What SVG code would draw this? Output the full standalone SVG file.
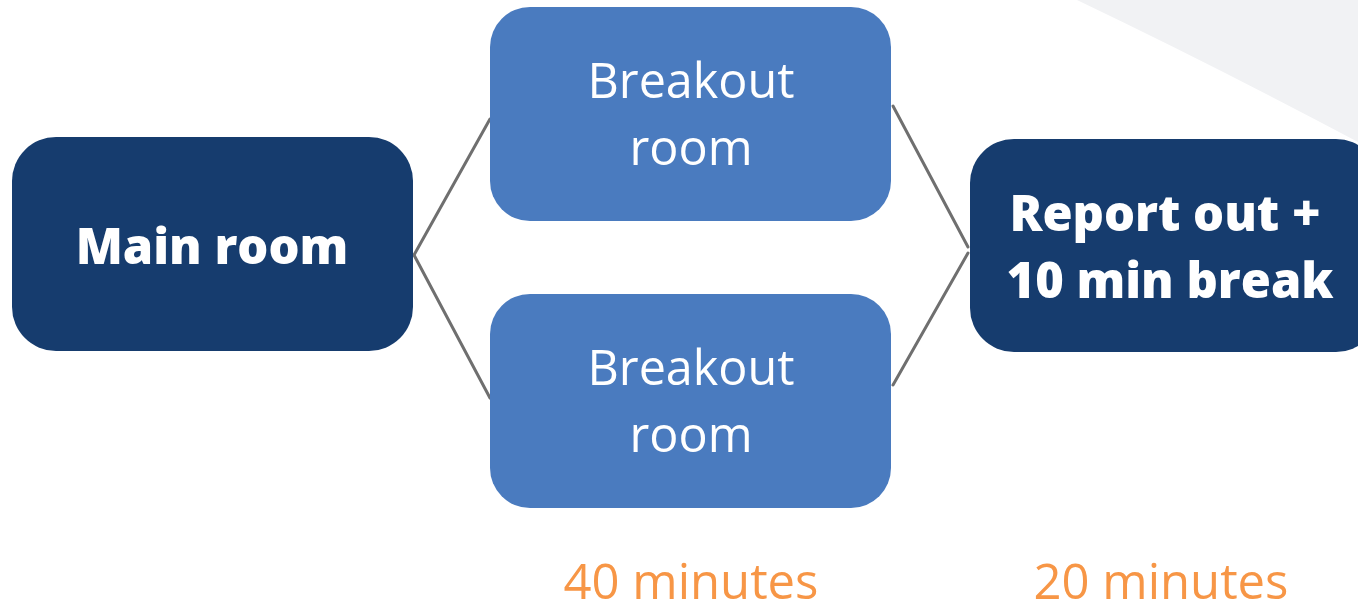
<svg xmlns="http://www.w3.org/2000/svg" width="1358" height="607" viewBox="0 0 1358 607">
  <style>
    .dark { fill: #163c6e; }
    .light { fill: #4a7bbf; }
    .bold { font-family: "Open Sans", "Liberation Sans", sans-serif; font-weight: 800; fill: #ffffff; text-anchor: middle; font-size: 48.8px; }
    .reg { font-family: "Open Sans", "Liberation Sans", sans-serif; font-weight: 400; fill: #ffffff; text-anchor: middle; font-size: 48.5px; }
    .time { font-family: "Open Sans", "Liberation Sans", sans-serif; font-weight: 400; fill: #f79646; text-anchor: middle; font-size: 49px; }
    .link { stroke: #6f6f6f; stroke-width: 3; fill: none; stroke-linecap: round; }
  </style>

  <rect width="1358" height="607" fill="#ffffff"/>
  <!-- soft grey backdrop in the upper right corner -->
  <path d="M1077 0 Q1215 66 1358 142 L1358 0 Z" fill="#f1f2f4"/>

  <g id="connectors">
    <line class="link" x1="414" y1="255" x2="490" y2="119"/>
    <line class="link" x1="414" y1="255" x2="490" y2="398"/>
    <line class="link" x1="893" y1="106" x2="968" y2="247"/>
    <line class="link" x1="968" y1="253" x2="893" y2="385"/>
  </g>

  <g id="main-room">
    <rect class="dark" x="12" y="137" width="401" height="214" rx="44"/>
    <text class="bold" x="212" y="264" font-size="47.5">Main room</text>
  </g>

  <g id="breakout-1">
    <rect class="light" x="490" y="7" width="401" height="214" rx="40"/>
    <text class="reg" x="691" y="98">Breakout</text>
    <text class="reg" x="691" y="165">room</text>
  </g>

  <g id="breakout-2">
    <rect class="light" x="490" y="294" width="401" height="214" rx="40"/>
    <text class="reg" x="691" y="385">Breakout</text>
    <text class="reg" x="691" y="452">room</text>
  </g>

  <g id="report-out">
    <rect class="dark" x="970" y="139" width="410" height="213" rx="44"/>
    <text class="bold" x="1165" y="231">Report out +</text>
    <text class="bold" x="1170" y="298">10 min break</text>
  </g>

  <g id="durations">
    <text class="time" x="691" y="599">40 minutes</text>
    <text class="time" x="1161" y="599">20 minutes</text>
  </g>
</svg>
